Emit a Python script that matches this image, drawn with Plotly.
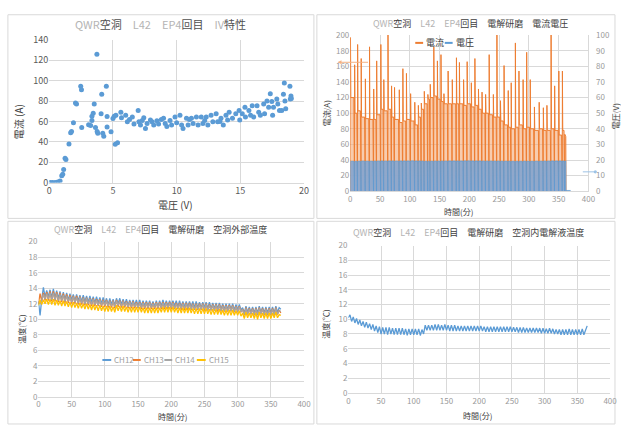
import plotly.graph_objects as go

# ---------------- DATA ----------------
# Panel 1: IV characteristic (voltage V, current A)
iv_voltage = [0.08, 0.26, 0.46, 0.67, 0.85, 0.98, 1.06, 1.13, 1.24, 1.31, 1.55, 1.68, 1.75, 1.9, 2.06, 2.14,
              2.47, 2.53, 2.55, 3.09, 3.25, 3.35, 3.35, 3.45, 3.53, 3.63, 3.74, 3.76, 3.81, 4.07, 4.12, 4.2,
              4.28, 4.48, 4.54, 4.54, 4.85, 5.0, 5.1, 5.18, 5.36, 5.23, 5.62, 5.67, 6.0, 6.13, 6.52, 6.65,
              6.98, 7.04, 7.16, 7.42, 7.55, 7.68, 7.94, 8.07, 8.2, 8.45, 8.58, 8.97, 9.1, 9.23, 9.48, 9.6,
              9.87, 10.0, 10.26, 10.39, 10.5, 10.77, 10.9, 11.16, 11.29, 11.55, 11.68, 11.93, 12.06, 12.32,
              12.45, 12.7, 12.84, 13.1, 13.22, 13.48, 13.66, 13.87, 14.0, 14.12, 14.38, 14.64, 14.9, 14.95,
              15.15, 15.36, 15.4, 15.67, 15.8, 15.93, 16.05, 16.31, 16.44, 16.57, 16.83, 16.9, 17.09, 17.22,
              17.35, 17.47, 17.53, 17.6, 17.86, 17.94, 18.07, 18.25, 18.38, 18.45, 18.5, 18.56, 18.89, 18.97,
              18.92, 19.0, 6.3, 7.3, 8.8, 11.0, 12.2, 13.4]
iv_current = [0, 0, 0, 0.6, 1.6, 6.7, 8, 12.7, 23.8, 22.5, 37.8, 48.9, 50, 58.7, 78, 77,
              94.6, 91, 54, 56.8, 56, 65, 61, 68, 77, 54, 126, 50, 48.5, 67.6, 86.7, 48.5,
              45.4, 94.6, 64.8, 54.6, 49.8, 62.8, 65, 37.5, 39, 66, 69, 63.5, 66, 59.7, 64.4, 57.5,
              70.8, 59.7, 56.5, 63.5, 53, 58, 61.3, 59.7, 56.5, 60.6, 57.5, 63, 58, 55, 61, 56.5,
              64.4, 58.7, 66, 56.5, 53, 63, 56.5, 63, 58, 64.4, 56.5, 64.4, 58, 64.4,
              56.5, 66, 59.7, 67.6, 59.7, 63, 56.5, 66, 61.3, 69, 63, 67.6, 70.8, 61.3,
              67.6, 74, 64.4, 70.8, 66, 75.5, 64.4, 75.5, 69, 66, 77, 67.6, 80, 74,
              87.3, 79.5, 66, 74, 82, 77, 70.8, 70.8, 86.7, 97.8, 80, 72.4, 94.6, 85,
              82, 82.5, 62, 61, 62, 62, 61, 60]

# Panel 2: electropolishing current / voltage, per pulse cycle
cycle_start = [0, 7, 12, 18, 25, 32, 39, 44, 51, 56,
               63, 69, 74, 82, 88, 94, 101, 108, 114, 119,
               124, 130, 134, 140, 146, 152, 157, 164, 171, 178,
               183, 190, 196, 203, 209, 215, 221, 227, 233, 240,
               246, 252, 258, 265, 270, 277, 283, 290, 296, 302,
               309, 317, 324, 330, 337, 343, 350, 356, 360]
cycle_end_last = 363
cur_peak = [197, 162, 188, 170, 144, 185, 131, 167, 188, 143,
            205, 135, 133, 130, 157, 151, 125, 114, 110, 113,
            128, 124, 137, 185, 167, 175, 125, 154, 143, 171,
            165, 143, 166, 139, 170, 131, 127, 124, 175, 124,
            205, 116, 161, 129, 139, 190, 154, 143, 178, 143,
            108, 114, 107, 110, 205, 135, 154, 154, 73]
cur_plateau = [120, 100, 103, 95, 93, 92, 92, 98, 105, 103,
               105, 95, 92, 88, 90, 92, 90, 85, 95, 105,
               112, 118, 120, 122, 118, 115, 112, 112, 112, 112,
               112, 110, 112, 108, 110, 105, 100, 100, 98, 95,
               95, 90, 85, 82, 80, 82, 85, 80, 82, 80,
               78, 80, 78, 78, 80, 78, 72, 78, 70]
volt_level = [19.1, 19.0, 19.1, 19.2, 19.1, 19.1, 19.2, 19.2, 19.3, 19.2,
              19.3, 19.3, 19.2, 19.3, 19.3, 19.3, 19.4, 19.3, 19.3, 19.2,
              19.0, 19.1, 19.1, 19.2, 19.2, 19.2, 19.2, 19.3, 19.3, 19.3,
              19.3, 19.4, 19.4, 19.3, 19.3, 19.3, 19.2, 19.2, 19.2, 19.2,
              19.2, 19.1, 19.1, 19.1, 19.0, 19.0, 19.0, 19.1, 19.1, 19.0,
              19.1, 19.1, 19.2, 19.2, 19.3, 19.3, 19.3, 19.3, 19.3]
volt_tail_t = [363, 370]
volt_tail_v = [0.5, 0.5]

# Panels 3-4: temperatures, troughs at t_temp and peaks at mid-cycle
t_temp = [0, 5, 10, 15, 20, 25, 30, 35, 40, 45,
          50, 55, 60, 65, 70, 75, 80, 85, 90, 95,
          100, 105, 110, 115, 120, 125, 130, 135, 140, 145,
          150, 155, 160, 165, 170, 175, 180, 185, 190, 195,
          200, 205, 210, 215, 220, 225, 230, 235, 240, 245,
          250, 255, 260, 265, 270, 275, 280, 285, 290, 295,
          300, 305, 310, 315, 320, 325, 330, 335, 340, 345,
          350, 355, 360, 365]
ch12_lo = [12.3, 12.6, 12.9, 12.9, 12.8, 12.8, 12.7, 12.6, 12.6, 12.5,
           12.5, 12.4, 12.4, 12.3, 12.3, 12.2, 12.2, 12.1, 12.1, 12.0,
           12.0, 11.9, 11.9, 11.8, 12.0, 11.9, 11.9, 11.8, 11.8, 11.8,
           11.7, 11.7, 11.7, 11.7, 11.6, 11.6, 11.6, 11.7, 11.7, 11.7,
           11.7, 11.7, 11.6, 11.6, 11.6, 11.6, 11.6, 11.5, 11.5, 11.5,
           11.5, 11.4, 11.4, 11.4, 11.4, 11.3, 11.3, 11.3, 11.3, 11.2,
           11.2, 11.2, 10.8, 10.9, 10.9, 10.8, 10.8, 10.9, 10.8, 10.8,
           10.8, 10.8, 10.9, 11.3]
ch12_hi = [10.5, 14.1, 13.7, 13.8, 13.9, 13.7, 13.6, 13.5, 13.4, 13.3,
           13.2, 13.2, 13.1, 13.1, 13.0, 13.0, 12.9, 12.9, 12.8, 12.8,
           12.7, 12.7, 12.6, 12.7, 12.7, 12.6, 12.6, 12.5, 12.5, 12.5,
           12.5, 12.4, 12.4, 12.4, 12.3, 12.4, 12.4, 12.5, 12.4, 12.4,
           12.4, 12.4, 12.4, 12.3, 12.3, 12.3, 12.3, 12.3, 12.2, 12.2,
           12.2, 12.2, 12.1, 12.1, 12.1, 12.0, 12.0, 12.0, 12.0, 11.9,
           11.9, 11.5, 11.7, 11.6, 11.6, 11.6, 11.7, 11.6, 11.6, 11.6,
           11.6, 11.7, 11.5]
ch13_lo = [12.0, 12.3, 12.4, 12.4, 12.3, 12.3, 12.2, 12.2, 12.1, 12.1,
           12.0, 12.0, 11.9, 11.9, 11.8, 11.8, 11.7, 11.7, 11.7, 11.6,
           11.6, 11.5, 11.5, 11.4, 11.6, 11.5, 11.5, 11.4, 11.4, 11.4,
           11.4, 11.3, 11.3, 11.3, 11.3, 11.3, 11.3, 11.3, 11.3, 11.3,
           11.3, 11.3, 11.3, 11.2, 11.2, 11.2, 11.2, 11.2, 11.2, 11.2,
           11.1, 11.1, 11.1, 11.1, 11.0, 11.0, 11.0, 11.0, 11.0, 10.9,
           10.9, 10.9, 10.5, 10.6, 10.6, 10.5, 10.5, 10.6, 10.5, 10.5,
           10.5, 10.5, 10.6, 10.8]
ch13_hi = [13.3, 13.4, 13.5, 13.6, 13.6, 13.5, 13.4, 13.3, 13.2, 13.1,
           13.0, 13.0, 12.9, 12.8, 12.8, 12.7, 12.7, 12.6, 12.6, 12.5,
           12.5, 12.4, 12.4, 12.5, 12.4, 12.4, 12.3, 12.3, 12.3, 12.2,
           12.2, 12.2, 12.2, 12.2, 12.1, 12.2, 12.2, 12.2, 12.2, 12.2,
           12.2, 12.1, 12.1, 12.1, 12.1, 12.1, 12.0, 12.0, 12.0, 12.0,
           12.0, 11.9, 11.9, 11.9, 11.9, 11.8, 11.8, 11.8, 11.8, 11.7,
           11.7, 11.3, 11.5, 11.4, 11.4, 11.4, 11.5, 11.4, 11.4, 11.4,
           11.4, 11.5, 11.2]
ch14_lo = [12.2, 12.4, 12.6, 12.6, 12.5, 12.5, 12.4, 12.4, 12.3, 12.3,
           12.2, 12.2, 12.1, 12.1, 12.0, 12.0, 11.9, 11.9, 11.8, 11.8,
           11.8, 11.7, 11.7, 11.6, 11.8, 11.7, 11.7, 11.6, 11.6, 11.6,
           11.5, 11.5, 11.5, 11.5, 11.5, 11.5, 11.5, 11.5, 11.5, 11.5,
           11.5, 11.4, 11.4, 11.4, 11.4, 11.4, 11.3, 11.3, 11.3, 11.3,
           11.3, 11.2, 11.2, 11.2, 11.2, 11.1, 11.1, 11.1, 11.1, 11.0,
           11.0, 11.0, 10.6, 10.7, 10.7, 10.6, 10.6, 10.7, 10.6, 10.6,
           10.6, 10.6, 10.7, 11.0]
ch14_hi = [12.0, 13.2, 13.3, 13.4, 13.4, 13.3, 13.2, 13.1, 13.0, 12.9,
           12.9, 12.8, 12.8, 12.7, 12.7, 12.6, 12.6, 12.5, 12.5, 12.4,
           12.4, 12.3, 12.3, 12.4, 12.3, 12.3, 12.2, 12.2, 12.2, 12.1,
           12.1, 12.1, 12.1, 12.1, 12.0, 12.1, 12.1, 12.1, 12.1, 12.1,
           12.1, 12.0, 12.0, 12.0, 12.0, 12.0, 11.9, 11.9, 11.9, 11.9,
           11.9, 11.8, 11.8, 11.8, 11.8, 11.7, 11.7, 11.7, 11.7, 11.6,
           11.6, 11.2, 11.4, 11.3, 11.3, 11.3, 11.4, 11.3, 11.3, 11.3,
           11.3, 11.4, 11.1]
ch15_lo = [11.8, 11.9, 12.0, 11.9, 11.9, 11.8, 11.8, 11.7, 11.7, 11.6,
           11.5, 11.5, 11.4, 11.4, 11.3, 11.3, 11.2, 11.2, 11.1, 11.1,
           11.0, 11.0, 11.0, 10.9, 11.1, 11.0, 11.0, 10.9, 10.9, 10.9,
           10.9, 10.9, 10.8, 10.8, 10.8, 10.8, 10.8, 10.9, 10.9, 10.9,
           10.9, 10.9, 10.8, 10.8, 10.8, 10.8, 10.8, 10.7, 10.7, 10.7,
           10.7, 10.7, 10.6, 10.6, 10.6, 10.6, 10.5, 10.5, 10.5, 10.5,
           10.5, 10.4, 10.1, 10.2, 10.2, 10.1, 10.0, 10.2, 10.1, 10.1,
           10.1, 10.2, 10.2, 10.5]
ch15_hi = [12.5, 12.5, 12.6, 12.6, 12.6, 12.5, 12.4, 12.4, 12.3, 12.2,
           12.2, 12.1, 12.1, 12.0, 12.0, 11.9, 11.9, 11.8, 11.8, 11.7,
           11.7, 11.7, 11.6, 11.8, 11.7, 11.7, 11.6, 11.6, 11.6, 11.6,
           11.6, 11.5, 11.5, 11.5, 11.5, 11.5, 11.5, 11.6, 11.6, 11.6,
           11.6, 11.5, 11.5, 11.5, 11.5, 11.5, 11.4, 11.4, 11.4, 11.4,
           11.4, 11.3, 11.3, 11.3, 11.3, 11.2, 11.2, 11.2, 11.2, 11.1,
           11.1, 10.8, 10.9, 10.8, 10.8, 10.8, 10.9, 10.8, 10.8, 10.8,
           10.8, 10.9, 10.6]
elec_lo = [10.2, 9.7, 9.5, 9.3, 9.1, 8.9, 8.8, 8.6, 8.4, 8.2,
           8.0, 8.0, 7.9, 8.0, 7.9, 7.9, 7.9, 7.9, 7.8, 7.9,
           7.9, 7.9, 7.8, 8.0, 8.5, 8.5, 8.5, 8.5, 8.5, 8.5,
           8.5, 8.4, 8.4, 8.4, 8.4, 8.4, 8.4, 8.4, 8.4, 8.4,
           8.4, 8.4, 8.3, 8.3, 8.3, 8.3, 8.3, 8.3, 8.3, 8.3,
           8.3, 8.3, 8.2, 8.2, 8.2, 8.2, 8.2, 8.2, 8.2, 8.1,
           8.1, 8.1, 8.1, 8.0, 8.0, 7.9, 7.9, 7.9, 7.9, 7.9,
           7.9, 7.9, 7.9, 9.1]
elec_hi = [10.6, 10.3, 10.1, 9.9, 9.7, 9.6, 9.4, 9.3, 9.1, 9.0,
           8.9, 8.9, 8.9, 8.8, 8.8, 8.8, 8.8, 8.7, 8.7, 8.7,
           8.7, 8.7, 8.6, 9.2, 9.2, 9.2, 9.3, 9.3, 9.2, 9.3,
           9.2, 9.2, 9.2, 9.1, 9.1, 9.1, 9.1, 9.1, 9.1, 9.1,
           9.1, 9.0, 9.0, 9.0, 9.0, 9.0, 9.0, 9.0, 9.0, 9.0,
           8.9, 8.9, 8.9, 8.9, 8.8, 8.8, 8.8, 8.8, 8.8, 8.8,
           8.7, 8.8, 8.7, 8.6, 8.6, 8.6, 8.6, 8.7, 8.6, 8.6,
           8.6, 8.7, 8.6]

ch_names = ["CH12", "CH13", "CH14", "CH15"]
ch_colors = ["#5B9BD5", "#ED7D31", "#A5A5A5", "#FFC000"]

# ---------------- helpers ----------------
W, H = 621, 429
def px(x): return x / W
def py(y): return 1 - y / H

def zig(t, lo, hi):
    n = min(len(hi), len(lo) - 1, len(t) - 1)
    xs, ys = [], []
    for i in range(n):
        xs += [t[i], (t[i] + t[i + 1]) / 2]
        ys += [lo[i], hi[i]]
    xs.append(t[n]); ys.append(lo[n])
    return xs, ys

cur_x, cur_y, volt_x, volt_y = [], [], [], []
for i, ts in enumerate(cycle_start):
    te = cycle_start[i + 1] if i + 1 < len(cycle_start) else cycle_end_last
    cur_x += [ts, ts + 0.3, ts + 0.9, te - 1.0, te - 0.7]
    cur_y += [0, cur_peak[i], cur_plateau[i], cur_plateau[i], 0]
    volt_x += [ts, ts + 0.2, te - 0.9, te - 0.7]
    volt_y += [0, volt_level[i], volt_level[i], 0]
volt_x += volt_tail_t
volt_y += volt_tail_v

FONT = "Noto Sans CJK JP, Noto Sans, sans-serif"
LG = "#B4B4B4"
DK = "#404040"
def sp(t): return f"<span style='color:{LG}'>{t}</span>"

fig = go.Figure()

# Panel 1
fig.add_trace(go.Scatter(x=iv_voltage, y=iv_current, mode="markers", xaxis="x", yaxis="y",
                         marker=dict(color="#5B9BD5", size=5), showlegend=False))

# Panel 2
fig.add_trace(go.Scatter(x=cur_x, y=cur_y, mode="lines", xaxis="x2", yaxis="y2", fill="tozeroy",
                         fillcolor="rgba(243,170,120,0.6)", line=dict(color="#ED7D31", width=1),
                         showlegend=False))
fig.add_trace(go.Scatter(x=volt_x, y=volt_y, mode="lines", xaxis="x2", yaxis="y3", fill="tozeroy",
                         fillcolor="rgba(135,165,205,0.92)", line=dict(color="#5B9BD5", width=0.7),
                         showlegend=False))

# Panel 3
for name, col, lo, hi in zip(ch_names, ch_colors, [ch12_lo, ch13_lo, ch14_lo, ch15_lo],
                             [ch12_hi, ch13_hi, ch14_hi, ch15_hi]):
    xs, ys = zig(t_temp, lo, hi)
    fig.add_trace(go.Scatter(x=xs, y=ys, mode="lines", xaxis="x3", yaxis="y4", name=name,
                             line=dict(color=col, width=1.3), showlegend=False))

# Panel 4
xs, ys = zig(t_temp, elec_lo, elec_hi)
fig.add_trace(go.Scatter(x=xs, y=ys, mode="lines", xaxis="x4", yaxis="y5",
                         line=dict(color="#5B9BD5", width=1.3), showlegend=False))

GRID = "#D9D9D9"
def ax(domain, rng, dtick, anchor, color="#9A9A9A", size=8, **kw):
    d = dict(domain=domain, range=rng, dtick=dtick, anchor=anchor, showgrid=True, gridcolor=GRID,
             gridwidth=1, zeroline=False, ticks="", tickfont=dict(family=FONT, size=size, color=color),
             fixedrange=True)
    d.update(kw)
    return d

fig.update_layout(
    width=W, height=H, margin=dict(l=0, r=0, t=0, b=0),
    paper_bgcolor="white", plot_bgcolor="white",
    font=dict(family=FONT), showlegend=False,
    xaxis=ax([px(47), px(306)], [0, 20], 5, "y", color="#595959", size=9,
             showline=True, linecolor=GRID),
    yaxis=ax([py(181), py(34)], [0, 140], 20, "x", color="#595959", size=9),
    xaxis2=ax([px(353), px(595)], [0, 400], 50, "y2", showline=True, linecolor=GRID),
    yaxis2=ax([py(190), py(29)], [0, 200], 20, "x2"),
    yaxis3=dict(overlaying="y2", side="right", anchor="x2", range=[0, 100], dtick=10, showgrid=False,
                zeroline=False, ticks="", showline=True, linecolor=GRID, ticklabelstandoff=5,
                tickfont=dict(family=FONT, size=8, color="#9A9A9A"), fixedrange=True),
    xaxis3=ax([px(36), px(306)], [0, 400], 50, "y4", showline=True, linecolor=GRID),
    yaxis4=ax([py(402), py(242)], [0, 20], 2, "x3"),
    xaxis4=ax([px(351), px(617)], [0, 400], 50, "y5", showline=True, linecolor=GRID),
    yaxis5=ax([py(398), py(246)], [0, 20], 2, "x4"),
)

# panel frames
for (x0, y0, x1, y1) in [(5, 8, 316, 218), (319, 8, 622, 218), (5, 221, 316, 430), (319, 221, 622, 430)]:
    fig.add_shape(type="rect", xref="paper", yref="paper", x0=px(x0), x1=px(x1), y0=py(y1), y1=py(y0),
                  line=dict(color="#D9D9D9", width=1), fillcolor="rgba(0,0,0,0)", layer="below")

def txt(x, y, t, size=10, color=DK, angle=0, xanchor="center"):
    fig.add_annotation(x=px(x), y=py(y), xref="paper", yref="paper", text=t, showarrow=False,
                       textangle=angle, font=dict(family=FONT, size=size, color=color),
                       xanchor=xanchor, yanchor="middle")

def legend_item(x0, x1, y, color, label, size, tcolor):
    fig.add_shape(type="line", xref="paper", yref="paper", x0=px(x0), x1=px(x1), y0=py(y), y1=py(y),
                  line=dict(color=color, width=2))
    txt(x1 + 1, y, label, size=size, color=tcolor, xanchor="left")

# titles
txt(160, 18, f"{sp('QWR')}空洞　{sp('L42')}　{sp('EP4')}回目　{sp('IV')}特性", size=11, color="#505050")
txt(475, 17, f"{sp('QWR')}空洞　{sp('L42')}　{sp('EP4')}回目　電解研磨　電流電圧", size=9, color=DK)
txt(160, 229, f"{sp('QWR')}空洞　{sp('L42')}　{sp('EP4')}回目　電解研磨　空洞外部温度", size=9, color=DK)
txt(473, 233, f"{sp('QWR')}空洞　{sp('L42')}　{sp('EP4')}回目　電解研磨　空洞内電解液温度", size=9, color=DK)

# axis titles
txt(16, 118, "電流 (A)", size=10, color="#404040", angle=-90)
txt(175, 204, "電圧 (V)", size=10, color="#404040")
txt(329, 110, "電流(A)", size=8, color="#404040", angle=-90)
txt(615, 113, "電圧(V)", size=8, color="#404040", angle=-90, xanchor="left")
txt(463, 211, "時間(分)", size=8, color="#404040")
txt(19, 332, "温度(℃)", size=8, color="#404040", angle=-90)
txt(172, 422, "時間(分)", size=8, color="#404040")
txt(327, 327, "温度(℃)", size=8, color="#404040", angle=-90)
txt(482, 421, "時間(分)", size=8, color="#404040")

# legends
legend_item(419, 427, 37, "#ED7D31", "電流", 9, "#404040")
legend_item(449, 457, 37, "#5B9BD5", "電圧", 9, "#404040")
for (x0, x1), name, col in zip([(101, 110), (132, 140), (164, 172), (197, 206)], ch_names, ch_colors):
    legend_item(x0, x1, 364, col, name, 8, "#A0A0A0")

# series-to-axis leader arrows (panel 2)
fig.add_annotation(x=px(340), y=py(57), xref="paper", yref="paper", ax=32, ay=0, text="",
                   showarrow=True, arrowhead=2, arrowsize=0.8, arrowwidth=1, arrowcolor="#F4B183")
fig.add_annotation(x=px(602), y=py(170), xref="paper", yref="paper", ax=-14, ay=0, text="",
                   showarrow=True, arrowhead=6, arrowsize=0.8, arrowwidth=1, arrowcolor="#9DC3E6")

fig.write_html("out.html", config={"displayModeBar": False},
               post_script="document.body.style.margin='0px';")
